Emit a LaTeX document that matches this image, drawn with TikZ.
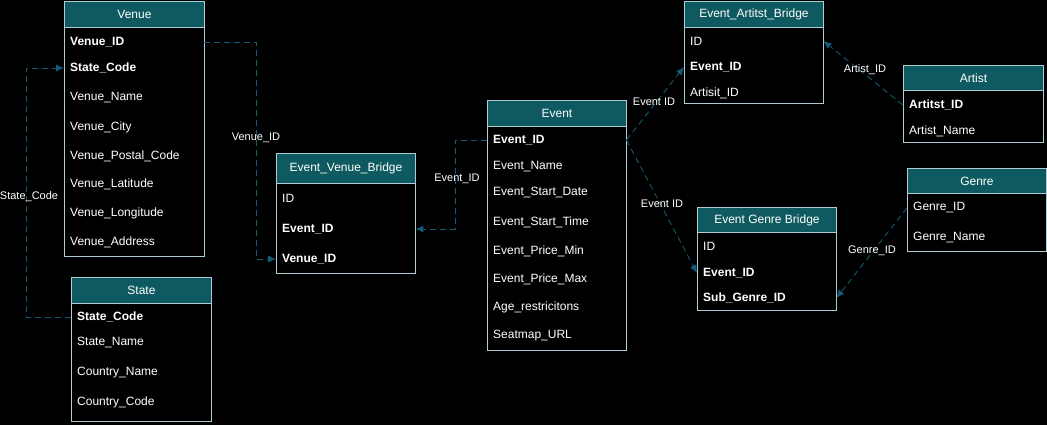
\documentclass[tikz,border=0pt]{standalone}
\usepackage{fontspec}
\setmainfont{Liberation Sans}
\usetikzlibrary{arrows.meta,calc}
\definecolor{hdr}{HTML}{0E5A60}
\definecolor{edgec}{HTML}{AFCBD3}
\definecolor{fkc}{HTML}{155B78}
\tikzset{
 box/.style={draw=edgec, line width=0.9pt, anchor=north west, inner sep=0pt},
 hdrbox/.style={draw=edgec, fill=hdr, line width=0.9pt, anchor=north west, inner sep=0pt, text=white, font=\fontsize{12}{14}\selectfont},
 row/.style={anchor=west, inner xsep=6pt, inner ysep=0pt, align=left, text=white, font=\fontsize{12}{14}\selectfont, minimum height=14pt, yshift=-1pt},
 keyrow/.style={row, font=\fontsize{12}{14}\selectfont\bfseries},
 fkline/.style={draw=fkc, line width=0.85pt, dash pattern=on 6pt off 4pt, -{Latex[length=8pt,width=7pt]}},
 lbl/.style={text=white, font=\fontsize{11}{13}\selectfont, inner sep=1pt},
}
% name, left, top, width, height, header height, title
\newcommand\mktable[7]{%
  \node[box, minimum width=#4pt, minimum height=#5pt] (#1) at (#2,#3) {};
  \node[hdrbox, minimum width=#4pt, minimum height=#6pt] (#1-h) at (#2,#3) {#7};
}
\begin{document}
\begin{tikzpicture}[x=1pt,y=-1pt]
\fill[black] (0,0) rectangle (1047,425);
\useasboundingbox (0,0) rectangle (1047,425);

% Venue
\mktable{venue}{64}{1}{140}{255}{26}{Venue}
\node[keyrow, text width=128pt] (venue-1) at (64,41) {Venue\_ID};
\node[keyrow, text width=128pt] (venue-2) at (64,67) {State\_Code};
\node[row, text width=128pt] (venue-3) at (64,97) {Venue\_Name};
\node[row, text width=128pt] (venue-4) at (64,126) {Venue\_City};
\node[row, text width=128pt] (venue-5) at (64,155) {Venue\_Postal\_Code};
\node[row, text width=128pt] (venue-6) at (64,183) {Venue\_Latitude};
\node[row, text width=128pt] (venue-7) at (64,212) {Venue\_Longitude};
\node[row, text width=128pt] (venue-8) at (64,241) {Venue\_Address};

% State
\mktable{state}{71}{277}{140}{144}{26}{State}
\node[keyrow, text width=128pt] (state-1) at (71,316) {State\_Code};
\node[row, text width=128pt] (state-2) at (71,342) {State\_Name};
\node[row, text width=128pt] (state-3) at (71,372) {Country\_Name};
\node[row, text width=128pt] (state-4) at (71,401) {Country\_Code};

% Event_Venue_Bridge
\mktable{evb}{276}{153}{139}{120}{30}{Event\_Venue\_Bridge}
\node[row, text width=127pt] (evb-1) at (276,197) {ID};
\node[keyrow, text width=127pt] (evb-2) at (276,228) {Event\_ID};
\node[keyrow, text width=127pt] (evb-3) at (276,258) {Venue\_ID};

% Event
\mktable{event}{487}{100}{139}{250}{26}{Event}
\node[keyrow, text width=127pt] (event-1) at (487,139) {Event\_ID};
\node[row, text width=127pt] (event-2) at (487,166) {Event\_Name};
\node[row, text width=127pt] (event-3) at (487,192) {Event\_Start\_Date};
\node[row, text width=127pt] (event-4) at (487,221) {Event\_Start\_Time};
\node[row, text width=127pt] (event-5) at (487,250) {Event\_Price\_Min};
\node[row, text width=127pt] (event-6) at (487,278) {Event\_Price\_Max};
\node[row, text width=127pt] (event-7) at (487,306) {Age\_restricitons};
\node[row, text width=127pt] (event-8) at (487,335) {Seatmap\_URL};

% Event_Artitst_Bridge
\mktable{eab}{684}{1}{139}{102}{26}{Event\_Artitst\_Bridge}
\node[row, text width=127pt] (eab-1) at (684,40) {ID};
\node[keyrow, text width=127pt] (eab-2) at (684,66) {Event\_ID};
\node[row, text width=127pt] (eab-3) at (684,92) {Artisit\_ID};

% Artist
\mktable{artist}{903}{65}{140}{77}{25}{Artist}
\node[keyrow, text width=128pt] (artist-1) at (903,104) {Artitst\_ID};
\node[row, text width=128pt] (artist-2) at (903,130) {Artist\_Name};

% Genre
\mktable{genre}{907}{168}{139}{83}{25}{Genre}
\node[row, text width=127pt] (genre-1) at (907,207) {Genre\_ID};
\node[row, text width=127pt] (genre-2) at (907,237) {Genre\_Name};

% Event Genre Bridge
\mktable{egb}{697}{207}{139}{103}{25}{Event Genre Bridge}
\node[row, text width=127pt] (egb-1) at (697,245) {ID};
\node[keyrow, text width=127pt] (egb-2) at (697,272) {Event\_ID};
\node[keyrow, text width=127pt] (egb-3) at (697,297) {Sub\_Genre\_ID};

% connectors
\draw[fkline] (state-1.west) -- ++(-45,0) |- (venue-2.west);
\draw[fkline] (venue-1.east) -- ++(52,0) |- (evb-3.west);
\draw[fkline] (event-1.west) -- ++(-32,0) |- (evb-2.east);
\draw[fkline] (event-1.east) -- (eab-2.west);
\draw[fkline] (event-1.east) -- (egb-2.west);
\draw[fkline] (artist-1.west) -- (eab-1.east);
\draw[fkline] (genre-1.west) -- (egb-3.east);

% labels
\node[lbl] (l1) at (29,197) {State\_Code};
\node[lbl] (l2) at (256,138) {Venue\_ID};
\node[lbl] (l3) at (457,179) {Event\_ID};
\node[lbl] (l4) at (654,102) {Event ID};
\node[lbl] (l5) at (662,204) {Event ID};
\node[lbl] (l6) at (865,70) {Artist\_ID};
\node[lbl] (l7) at (872,251) {Genre\_ID};
\end{tikzpicture}
\end{document}
